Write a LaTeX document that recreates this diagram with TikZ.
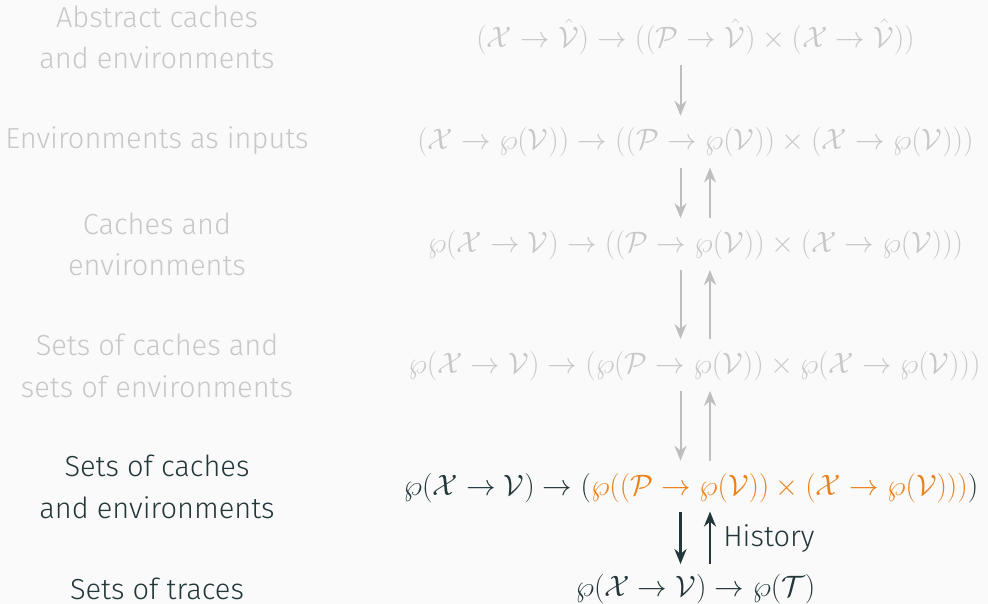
\documentclass[tikz,border=0pt]{standalone}
\usepackage{fix-cm}
\usepackage{fontspec}
\setmainfont{Fira Sans Light}
\usetikzlibrary{arrows.meta}
\definecolor{bg}{HTML}{FAFAFA}
\definecolor{dim}{HTML}{C8C8C8}
\definecolor{dimarrow}{HTML}{BEBEBE}
\definecolor{dark}{HTML}{23373B}
\definecolor{orng}{HTML}{EB811B}
\begin{document}
\begin{tikzpicture}[x=1pt,y=-1pt,
  lbl/.style={align=center,font=\fontsize{29}{41.5}\selectfont,inner sep=0pt,anchor=base},
  mth/.style={font=\fontsize{29.5}{36}\selectfont,inner sep=0pt,anchor=base},
  garrow/.style={draw=dimarrow,line width=2pt,-{Stealth[length=15pt,width=12pt]}},
  darrow/.style={draw=dark,line width=2.6pt,-{Stealth[length=15pt,width=12pt]}},
  dn/.style={shorten <=10pt,shorten >=12pt},
  up/.style={shorten <=12pt,shorten >=10pt},
  ddn/.style={shorten <=9pt,shorten >=10pt},
  dup/.style={shorten <=10pt,shorten >=9pt}]
\fill[bg] (0,0) rectangle (988,604);
\useasboundingbox (0,0) rectangle (988,604);
\coordinate (ax) at (680.5,0);
\coordinate (ux) at (710,0);
% left labels (base = baseline of last line)
\node[lbl,text=dim] (l1) at (157,69) {Abstract caches\\and environments};
\node[lbl,text=dim] (l2) at (157,149) {Environments as inputs};
\node[lbl,text=dim] (l3) at (157,276) {Caches and\\environments};
\node[lbl,text=dim] (l4) at (157,397) {Sets of caches and\\sets of environments};
\node[lbl,text=dark] (l5) at (157,518) {Sets of caches\\and environments};
\node[lbl,text=dark] (l6) at (157,599) {Sets of traces};
% math
\node[mth,text=dim] (m1) at (695.5,47.4) {$(\mathcal{X}\to\hat{\mathcal{V}})\to((\mathcal{P}\to\hat{\mathcal{V}})\times(\mathcal{X}\to\hat{\mathcal{V}}))$};
\node[mth,text=dim] (m2) at (695.5,150) {$(\mathcal{X}\to\wp(\mathcal{V}))\to((\mathcal{P}\to\wp(\mathcal{V}))\times(\mathcal{X}\to\wp(\mathcal{V})))$};
\node[mth,text=dim] (m3) at (695.5,252.4) {$\wp(\mathcal{X}\to\mathcal{V})\to((\mathcal{P}\to\wp(\mathcal{V}))\times(\mathcal{X}\to\wp(\mathcal{V})))$};
\node[mth,text=dim] (m4) at (694.5,373.4) {$\wp(\mathcal{X}\to\mathcal{V})\to(\wp(\mathcal{P}\to\wp(\mathcal{V}))\times\wp(\mathcal{X}\to\wp(\mathcal{V})))$};
\node[mth,text=dark] (m5) at (691,495) {$\wp(\mathcal{X}\to\mathcal{V})\to({\color{orng}\wp((\mathcal{P}\to\wp(\mathcal{V}))\times(\mathcal{X}\to\wp(\mathcal{V})))})$};
\node[mth,text=dark] (m6) at (695.5,596.4) {$\wp(\mathcal{X}\to\mathcal{V})\to\wp(\mathcal{T})$};
% arrows
\draw[garrow,dn] (m1.south -| ax) -- (m2.north -| ax);
\draw[garrow,dn] (m2.south -| ax) -- (m3.north -| ax);
\draw[garrow,up] (m3.north -| ux) -- (m2.south -| ux);
\draw[garrow,dn] (m3.south -| ax) -- (m4.north -| ax);
\draw[garrow,up] (m4.north -| ux) -- (m3.south -| ux);
\draw[garrow,dn] (m4.south -| ax) -- (m5.north -| ax);
\draw[garrow,up] (m5.north -| ux) -- (m4.south -| ux);
\draw[darrow,ddn] (m5.south -| ax) -- (m6.north -| ax);
\draw[darrow,dup] (m6.north -| ux) -- node[right=12pt,inner sep=0pt,font=\fontsize{29}{35}\selectfont,text=dark] (hist) {History} (m5.south -| ux);
\end{tikzpicture}
\end{document}
